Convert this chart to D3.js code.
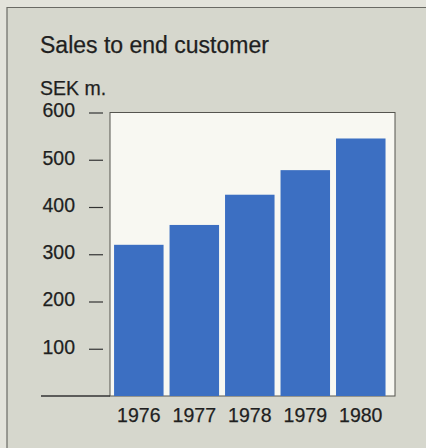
<!DOCTYPE html>
<html>
<head>
<meta charset="utf-8">
<script src="https://cdn.jsdelivr.net/npm/d3@7"></script>
<style>
  html, body { margin: 0; padding: 0; background: #e3e3db; }
  svg { display: block; }
</style>
</head>
<body>
<svg id="chart" width="426" height="448"></svg>
<script>
// Sales to end customer, SEK millions
const years = ["1976", "1977", "1978", "1979", "1980"];
const sales = [320, 362, 426, 478, 545];
const tickValues = [100, 200, 300, 400, 500, 600];

const svg = d3.select("#chart");
const font = "'Liberation Sans', Arial, Helvetica, sans-serif";
const ink = "#1f1f1f";

// panel background
svg.append("rect")
  .attr("x", 7).attr("y", 7).attr("width", 426).attr("height", 448)
  .attr("fill", "#d6d7cd");
svg.append("line")
  .attr("x1", 7).attr("x2", 426).attr("y1", 7.5).attr("y2", 7.5)
  .attr("stroke", "#6a6a64").attr("stroke-width", 1.2);
svg.append("line")
  .attr("x1", 7).attr("x2", 7).attr("y1", 7).attr("y2", 448)
  .attr("stroke", "#6a6a64").attr("stroke-width", 1.2);

const plot = { left: 110, right: 395, top: 112.5, bottom: 396 };

const x = d3.scaleBand()
  .domain(years)
  .range([plot.left, plot.right])
  .paddingInner(0.108)
  .paddingOuter(0.122)
  .align(0.3);

const y = d3.scaleLinear()
  .domain([0, 600])
  .range([plot.bottom, plot.top]);

// plot area
svg.append("rect")
  .attr("x", plot.left).attr("y", plot.top)
  .attr("width", plot.right - plot.left).attr("height", plot.bottom - plot.top)
  .attr("fill", "#f8f8f2")
  .attr("stroke", "#55554f").attr("stroke-width", 1);

// bars
svg.append("g").selectAll("rect")
  .data(years.map((yr, i) => ({ yr, v: sales[i] })))
  .join("rect")
  .attr("x", d => x(d.yr))
  .attr("y", d => y(d.v))
  .attr("width", x.bandwidth())
  .attr("height", d => y(0) - y(d.v))
  .attr("fill", "#3c6fc2");

// y axis: labels with short dashes to the left of the plot
const yAxis = d3.axisLeft(y)
  .tickValues(tickValues)
  .tickSize(14)
  .tickPadding(14)
  .tickFormat(d3.format("d"));
const gy = svg.append("g")
  .attr("transform", `translate(${plot.left - 7},0)`)
  .call(yAxis);
gy.select(".domain").remove();
gy.selectAll(".tick line").attr("stroke", "#333").attr("stroke-width", 1.2);
gy.selectAll(".tick text")
  .attr("fill", ink)
  .attr("stroke", ink).attr("stroke-width", 0.25)
  .attr("dy", "0.22em")
  .style("font-family", font)
  .style("font-size", "19.5px");

// baseline extending left of the plot
svg.append("line")
  .attr("x1", 41).attr("x2", plot.left)
  .attr("y1", y(0)).attr("y2", y(0))
  .attr("stroke", "#333").attr("stroke-width", 1.4);

// x axis year labels
const xAxis = d3.axisBottom(x).tickSize(0).tickPadding(12);
const gx = svg.append("g")
  .attr("transform", `translate(0,${plot.bottom})`)
  .call(xAxis);
gx.select(".domain").remove();
gx.selectAll(".tick text")
  .attr("fill", ink)
  .attr("stroke", ink).attr("stroke-width", 0.25)
  .style("font-family", font)
  .style("font-size", "19.5px");

// title and unit
svg.append("text")
  .attr("x", 40).attr("y", 53)
  .attr("fill", ink)
  .attr("stroke", ink).attr("stroke-width", 0.25)
  .style("font-family", font)
  .style("font-size", "23px")
  .text("Sales to end customer");
svg.append("text")
  .attr("x", 40).attr("y", 94.5)
  .attr("fill", ink)
  .attr("stroke", ink).attr("stroke-width", 0.25)
  .style("font-family", font)
  .style("font-size", "19.5px")
  .text("SEK m.");
</script>
</body>
</html>
